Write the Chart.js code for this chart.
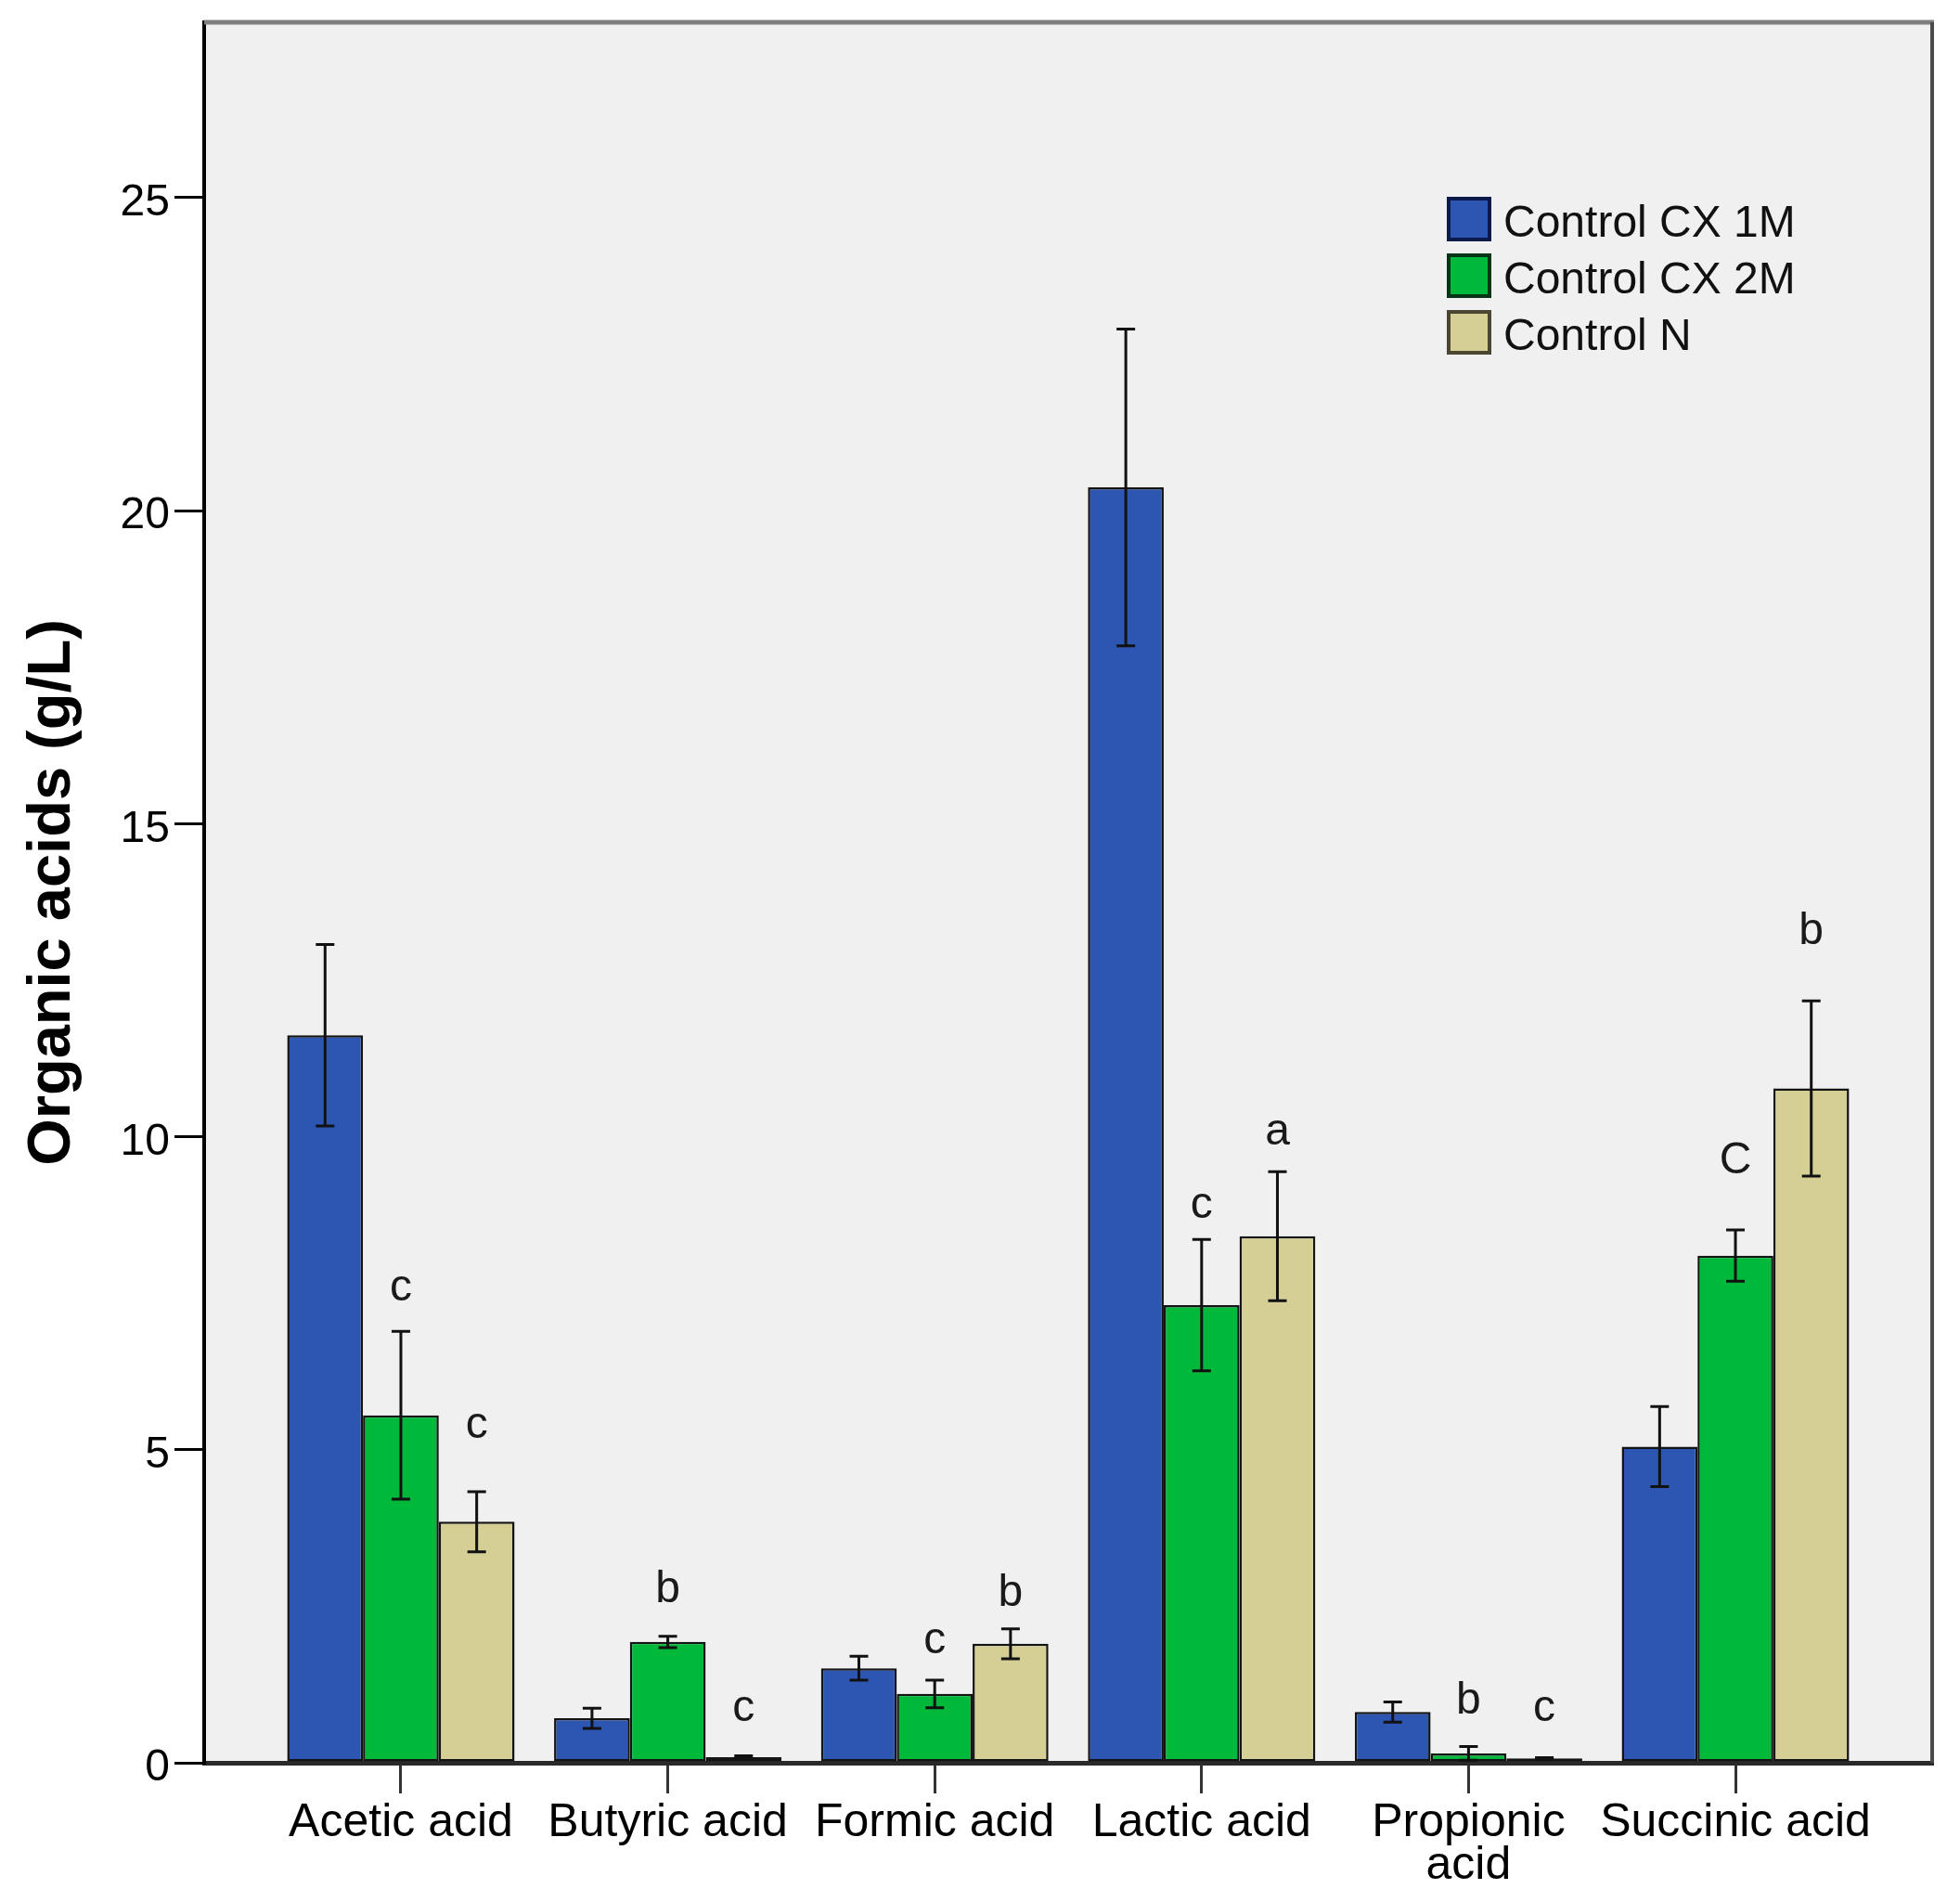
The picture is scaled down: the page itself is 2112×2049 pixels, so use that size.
<!DOCTYPE html>
<html>
<head>
<meta charset="utf-8">
<script src="https://cdn.jsdelivr.net/npm/chart.js@4.4.1/dist/chart.umd.min.js"></script>
<style>
  html, body { margin: 0; padding: 0; background: #ffffff; }
  #wrap { width: 2112px; height: 2049px; }
</style>
</head>
<body>
<div id="wrap"><canvas id="c" width="2112" height="2049"></canvas></div>
<script>
// ---- data ----
const categories = ['Acetic acid', 'Butyric acid', 'Formic acid', 'Lactic acid', ['Propionic', 'acid'], 'Succinic acid'];
const seriesNames = ['Control CX 1M', 'Control CX 2M', 'Control N'];

const cx1mValues = [11.62, 0.71, 1.51, 20.37, 0.81, 5.05];
const cx1mErrors = [1.45, 0.16, 0.19, 2.53, 0.16, 0.64];

const cx2mValues = [5.55, 1.93, 1.10, 7.31, 0.15, 8.10];
const cx2mErrors = [1.34, 0.09, 0.22, 1.05, 0.11, 0.41];

const ctrlNValues = [3.85, 0.09, 1.90, 8.41, 0.07, 10.77];
const ctrlNErrors = [0.48, 0.02, 0.24, 1.03, 0.01, 1.40];

// significance letters (and the value level of their baseline)
const cx2mLetters = ['c', 'b', 'c', 'c', 'b', 'C'];
const cx2mLetterY = [7.39, 2.56, 1.75, 8.71, 0.79, 9.42];
const ctrlNLetters = ['c', 'c', 'b', 'a', 'c', 'b'];
const ctrlNLetterY = [5.19, 0.67, 2.51, 9.88, 0.66, 13.07];

const yTickStep = 5;
const yMax = 27.8;

// ---- styles ----
const fills = ['#2d56b2', '#00b83a', '#d5cf96'];
const edges = ['#0b1a4a', '#063515', '#4a4632'];
const FONT = '"Liberation Sans", Arial, sans-serif';

const toPoints = vals => vals.map((v, i) => ({ x: i, y: v }));

const datasets = [
  { label: seriesNames[0], data: toPoints(cx1mValues), errors: cx1mErrors, letters: null, letterY: null },
  { label: seriesNames[1], data: toPoints(cx2mValues), errors: cx2mErrors, letters: cx2mLetters, letterY: cx2mLetterY },
  { label: seriesNames[2], data: toPoints(ctrlNValues), errors: ctrlNErrors, letters: ctrlNLetters, letterY: ctrlNLetterY }
].map((d, k) => Object.assign(d, {
  backgroundColor: fills[k],
  borderColor: '#141414',
  borderWidth: 2.5,
  borderSkipped: false,
  categoryPercentage: 0.852,
  barPercentage: 1.0
}));

const backgroundPlugin = {
  id: 'bg',
  beforeDraw(chart) {
    const { ctx, chartArea: a } = chart;
    ctx.save();
    ctx.fillStyle = '#ffffff';
    ctx.fillRect(0, 0, chart.width, chart.height);
    ctx.fillStyle = '#f0f0f0';
    ctx.fillRect(a.left, a.top, a.right - a.left, a.bottom - a.top);
    ctx.restore();
  }
};

const errorBarPlugin = {
  id: 'errorBars',
  afterDatasetsDraw(chart) {
    const { ctx } = chart;
    const ys = chart.scales.y;
    ctx.save();
    ctx.strokeStyle = '#111111';
    ctx.lineWidth = 3;
    chart.data.datasets.forEach((ds, di) => {
      const meta = chart.getDatasetMeta(di);
      meta.data.forEach((bar, i) => {
        const v = ds.data[i].y, e = ds.errors[i];
        const yt = ys.getPixelForValue(v + e);
        const yb = ys.getPixelForValue(Math.max(v - e, 0));
        const half = 10;
        ctx.beginPath();
        ctx.moveTo(bar.x, yt); ctx.lineTo(bar.x, yb);
        ctx.moveTo(bar.x - half, yt); ctx.lineTo(bar.x + half, yt);
        ctx.moveTo(bar.x - half, yb); ctx.lineTo(bar.x + half, yb);
        ctx.stroke();
      });
    });
    ctx.restore();
  }
};

const letterPlugin = {
  id: 'letters',
  afterDatasetsDraw(chart) {
    const { ctx } = chart;
    const ys = chart.scales.y;
    ctx.save();
    ctx.fillStyle = '#1a1a1a';
    ctx.font = '48px ' + FONT;
    ctx.textAlign = 'center';
    ctx.textBaseline = 'alphabetic';
    chart.data.datasets.forEach((ds, di) => {
      if (!ds.letters) return;
      const meta = chart.getDatasetMeta(di);
      meta.data.forEach((bar, i) => {
        ctx.fillText(ds.letters[i], bar.x, ys.getPixelForValue(ds.letterY[i]));
      });
    });
    ctx.restore();
  }
};

const framePlugin = {
  id: 'frame',
  afterDraw(chart) {
    const { ctx, chartArea: a } = chart;
    ctx.save();
    ctx.strokeStyle = '#7f7f7f';
    ctx.lineWidth = 5;
    ctx.beginPath();
    ctx.moveTo(a.left, a.top); ctx.lineTo(a.right + 2, a.top);
    ctx.stroke();
    ctx.strokeStyle = '#4a4a4a';
    ctx.lineWidth = 4;
    ctx.beginPath();
    ctx.moveTo(a.right, a.top); ctx.lineTo(a.right, a.bottom);
    ctx.stroke();
    ctx.restore();
  }
};

const legendPlugin = {
  id: 'boxLegend',
  afterDraw(chart) {
    const { ctx } = chart;
    const x0 = 1559, y0 = 212, size = 48, step = 61, textX = 1620;
    ctx.save();
    ctx.font = '48px ' + FONT;
    ctx.textAlign = 'left';
    ctx.textBaseline = 'alphabetic';
    chart.data.datasets.forEach((ds, i) => {
      const y = y0 + i * step;
      ctx.fillStyle = fills[i];
      ctx.fillRect(x0, y, size, size);
      ctx.strokeStyle = edges[i];
      ctx.lineWidth = 4;
      ctx.strokeRect(x0 + 2, y + 2, size - 4, size - 4);
      ctx.fillStyle = '#111111';
      ctx.fillText(ds.label, textX, y + 43);
    });
    ctx.restore();
  }
};

new Chart(document.getElementById('c'), {
  type: 'bar',
  data: { datasets },
  options: {
    responsive: false,
    devicePixelRatio: 1,
    animation: false,
    layout: { padding: { top: 24, right: 30, left: 0, bottom: 0 } },
    plugins: {
      legend: { display: false },
      tooltip: { enabled: false }
    },
    scales: {
      x: {
        type: 'linear',
        min: -0.737,
        max: categories.length - 1 + 0.737,
        offset: false,
        afterFit(scale) { scale.height = 150; scale.paddingLeft = 0; scale.paddingRight = 0; },
        grid: {
          offset: false,
          drawOnChartArea: false,
          drawTicks: true,
          tickLength: 33,
          color: '#333333',
          lineWidth: 3
        },
        border: { display: true, color: '#2a2a2a', width: 5 },
        ticks: {
          stepSize: 1,
          includeBounds: false,
          autoSkip: false,
          maxRotation: 0,
          minRotation: 0,
          padding: 9,
          color: '#000000',
          font: { family: FONT, size: 50, lineHeight: 0.92 },
          callback: (v) => (Number.isInteger(v) && categories[v] !== undefined) ? categories[v] : ''
        }
      },
      y: {
        min: 0,
        max: yMax,
        afterFit(scale) { scale.width = 220; scale.paddingTop = 0; scale.paddingBottom = 0; },
        grid: {
          drawOnChartArea: false,
          drawTicks: true,
          tickLength: 32,
          color: '#000000',
          lineWidth: 3
        },
        border: { display: true, color: '#000000', width: 4 },
        ticks: {
          stepSize: yTickStep,
          includeBounds: false,
          padding: 5,
          labelOffset: 6,
          color: '#000000',
          font: { family: FONT, size: 48 }
        },
        title: {
          display: true,
          text: 'Organic acids (g/L)',
          color: '#000000',
          font: { family: FONT, size: 65, weight: 'bold', lineHeight: 1.2 },
          padding: { top: 18, bottom: 0 }
        }
      }
    }
  },
  plugins: [backgroundPlugin, errorBarPlugin, letterPlugin, framePlugin, legendPlugin]
});
</script>
</body>
</html>
